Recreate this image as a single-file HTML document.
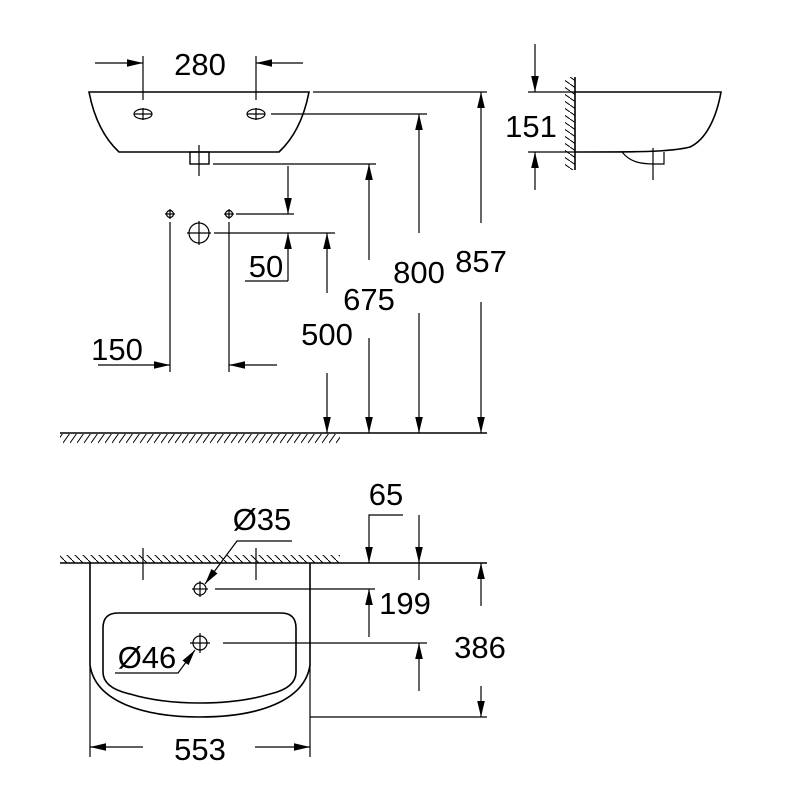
<!DOCTYPE html>
<html><head><meta charset="utf-8"><style>html,body{margin:0;padding:0;background:#fff}svg{display:block}</style></head>
<body>
<svg width="800" height="800" viewBox="0 0 800 800" xmlns="http://www.w3.org/2000/svg">
<defs>
<marker id="a" markerUnits="userSpaceOnUse" markerWidth="18" markerHeight="10" refX="16" refY="5" orient="auto">
<path d="M0,1.2 L16,5 L0,8.8 Z" fill="#000"/></marker>
<pattern id="hf" width="7" height="12" patternUnits="userSpaceOnUse"><path d="M0,11 L7,1" stroke="#000" stroke-width="1"/></pattern>
<pattern id="hw" width="8" height="8" patternUnits="userSpaceOnUse"><path d="M0,0 L8,8" stroke="#000" stroke-width="1"/></pattern>
<pattern id="hs" width="10" height="7" patternUnits="userSpaceOnUse"><path d="M0,0 L10,7" stroke="#000" stroke-width="1"/></pattern>
</defs>
<g fill="none" stroke="#000" stroke-width="1.2">
<path d="M89,92 L309,92 C304,118 294,138 279,152 L119,152 C104,138 94,118 89,92 Z" stroke-width="1.6"/>
<rect x="190" y="152" width="19" height="12" stroke-width="1.4"/>
<line x1="199" y1="145" x2="199" y2="176"/>
<line x1="143" y1="56" x2="143" y2="100"/><line x1="256" y1="56" x2="256" y2="100"/>
<ellipse cx="143" cy="114" rx="9" ry="5"/><line x1="134" y1="114" x2="152" y2="114"/><line x1="143" y1="108" x2="143" y2="120"/>
<ellipse cx="256" cy="114" rx="9" ry="5"/><line x1="247" y1="114" x2="265" y2="114"/><line x1="256" y1="108" x2="256" y2="120"/>
<line x1="95" y1="63" x2="143" y2="63" marker-end="url(#a)"/>
<line x1="303" y1="63" x2="256" y2="63" marker-end="url(#a)"/>
<line x1="313" y1="92" x2="487" y2="92"/>
<line x1="271" y1="114" x2="427" y2="114"/>
<line x1="213" y1="164" x2="376" y2="164"/>
<circle cx="170" cy="214" r="3.5"/><line x1="165" y1="214" x2="175" y2="214"/><line x1="170" y1="209" x2="170" y2="219"/>
<circle cx="229" cy="214" r="3.5"/><line x1="224" y1="214" x2="234" y2="214"/><line x1="229" y1="209" x2="229" y2="219"/>
<circle cx="199" cy="233" r="10"/><line x1="187" y1="233" x2="211" y2="233"/><line x1="199" y1="221" x2="199" y2="245"/>
<line x1="170" y1="222" x2="170" y2="372"/><line x1="229" y1="222" x2="229" y2="372"/>
<line x1="236" y1="214" x2="294" y2="214"/>
<line x1="214" y1="233" x2="335" y2="233"/>
<line x1="288" y1="166" x2="288" y2="214" marker-end="url(#a)"/>
<line x1="288" y1="281" x2="288" y2="233" marker-end="url(#a)"/>
<line x1="245" y1="281" x2="288" y2="281"/>
<line x1="98" y1="365" x2="170" y2="365" marker-end="url(#a)"/>
<line x1="277" y1="365" x2="229" y2="365" marker-end="url(#a)"/>
<line x1="327" y1="293" x2="327" y2="233" marker-end="url(#a)"/>
<line x1="327" y1="373" x2="327" y2="433" marker-end="url(#a)"/>
<line x1="369" y1="260" x2="369" y2="164" marker-end="url(#a)"/>
<line x1="369" y1="338" x2="369" y2="433" marker-end="url(#a)"/>
<line x1="419" y1="233" x2="419" y2="114" marker-end="url(#a)"/>
<line x1="419" y1="313" x2="419" y2="433" marker-end="url(#a)"/>
<line x1="481" y1="223" x2="481" y2="92" marker-end="url(#a)"/>
<line x1="481" y1="302" x2="481" y2="433" marker-end="url(#a)"/>
<line x1="60" y1="433" x2="487" y2="433" stroke-width="1.6"/>
<line x1="575" y1="77" x2="575" y2="170" stroke-width="1.6"/>
<path d="M575,92 L721,92 C716,120 705,140 690,147 C670,152 640,152 575,152" stroke-width="1.6"/>
<path d="M622,152 C630,162 640,164 655,164 L664,164 L664,152"/>
<line x1="653" y1="148" x2="653" y2="180"/>
<line x1="535" y1="44" x2="535" y2="92" marker-end="url(#a)"/>
<line x1="535" y1="190" x2="535" y2="152" marker-end="url(#a)"/>
<line x1="528" y1="92" x2="575" y2="92"/><line x1="528" y1="152" x2="575" y2="152"/>
<line x1="60" y1="563" x2="487" y2="563" stroke-width="1.6"/>
<path d="M90,563 L90,665 C95,700 140,717 200,717 C260,717 305,700 310,665 L310,563" stroke-width="1.6"/>
<path d="M118,613 L281,613 Q296,613 296,628 L296,672 Q296,688 270,694 Q240,703 200,703 Q160,703 130,694 Q103,688 103,672 L103,628 Q103,613 118,613 Z" stroke-width="1.6"/>
<line x1="90" y1="665" x2="90" y2="757"/><line x1="310" y1="665" x2="310" y2="757"/>
<line x1="143" y1="548" x2="143" y2="580"/><line x1="256" y1="548" x2="256" y2="580"/>
<circle cx="200" cy="589" r="6"/><line x1="192" y1="589" x2="208" y2="589"/><line x1="200" y1="581" x2="200" y2="597"/>
<circle cx="200" cy="643" r="7"/><line x1="190" y1="643" x2="210" y2="643"/><line x1="200" y1="633" x2="200" y2="653"/>
<line x1="215" y1="589" x2="375" y2="589"/>
<line x1="223" y1="643" x2="427" y2="643"/>
<path d="M292,541 L237,541 L205,584" marker-end="url(#a)"/>
<path d="M115,673 L178,673 L195,650" marker-end="url(#a)"/>
<path d="M403,515 L369,515 L369,563" marker-end="url(#a)"/>
<line x1="419" y1="515" x2="419" y2="563" marker-end="url(#a)"/>
<line x1="419" y1="563" x2="419" y2="580"/>
<line x1="369" y1="637" x2="369" y2="589" marker-end="url(#a)"/>
<line x1="419" y1="691" x2="419" y2="643" marker-end="url(#a)"/>
<line x1="481" y1="606" x2="481" y2="563" marker-end="url(#a)"/>
<line x1="481" y1="686" x2="481" y2="717" marker-end="url(#a)"/>
<line x1="310" y1="717" x2="487" y2="717"/>
<line x1="143" y1="747" x2="90" y2="747" marker-end="url(#a)"/>
<line x1="255" y1="747" x2="310" y2="747" marker-end="url(#a)"/>
</g>
<rect x="60" y="434" width="280" height="10" fill="url(#hf)"/>
<rect x="565" y="77" width="10" height="93" fill="url(#hs)"/>
<rect x="60" y="555" width="280" height="8" fill="url(#hw)"/>
<g font-family="Liberation Sans, Arial, sans-serif" font-size="31" fill="#000" text-anchor="middle">
<text x="200" y="75">280</text>
<text x="266" y="277">50</text>
<text x="117" y="360">150</text>
<text x="327" y="345">500</text>
<text x="369" y="310">675</text>
<text x="419" y="283">800</text>
<text x="481" y="272">857</text>
<text x="531" y="137">151</text>
<text x="386" y="505">65</text>
<text x="262" y="530">Ø35</text>
<text x="147" y="668">Ø46</text>
<text x="405" y="614">199</text>
<text x="480" y="658">386</text>
<text x="200" y="760">553</text>
</g>
</svg>
</body></html>
